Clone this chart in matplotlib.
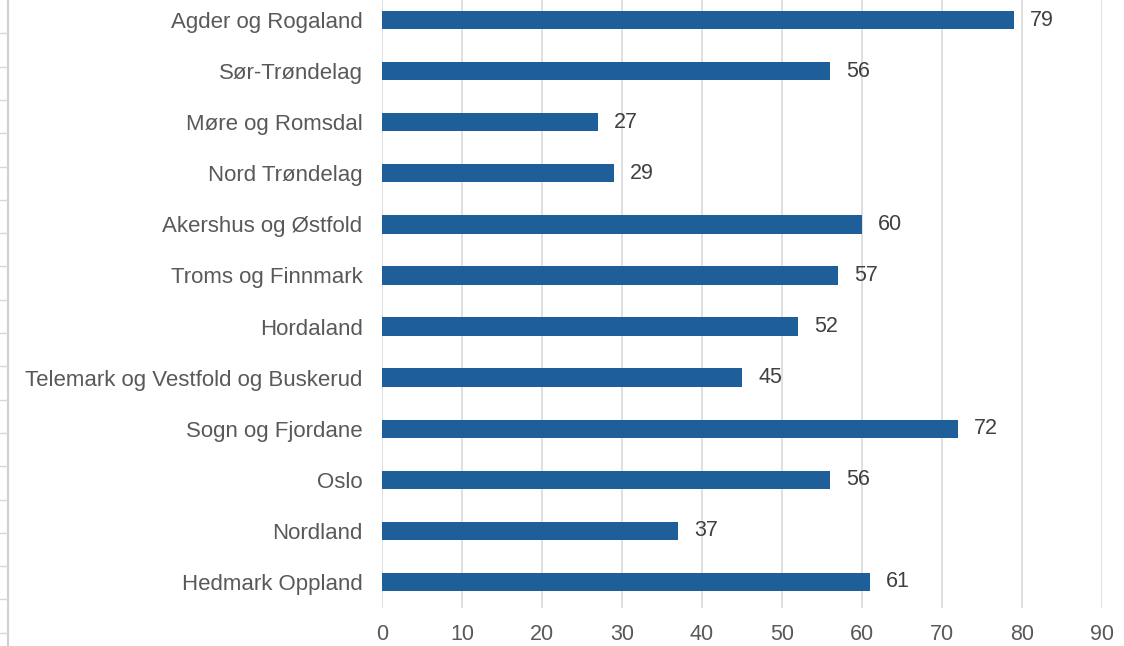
import numpy as np
import matplotlib
matplotlib.use("Agg")
from matplotlib import pyplot as plt
from matplotlib.lines import Line2D

# data, bottom to top
regions = ["Hedmark Oppland", "Nordland", "Oslo", "Sogn og Fjordane",
           "Telemark og Vestfold og Buskerud", "Hordaland", "Troms og Finnmark",
           "Akershus og Østfold", "Nord Trøndelag", "Møre og Romsdal",
           "Sør-Trøndelag", "Agder og Rogaland"]
values = [61, 37, 56, 72, 45, 52, 57, 60, 29, 27, 56, 79]

plt.rcParams["font.family"] = ["Liberation Sans", "DejaVu Sans"]

W, H = 1124, 646
fig = plt.figure(figsize=(W / 100, H / 100), dpi=100)
ax = fig.add_axes([382 / W, 1 - 607.5 / H, 720 / W, 613 / H])

y = np.arange(len(regions))
ax.barh(y, values, height=0.36, color="#1f5f99")
for yi, v in zip(y, values):
    ax.text(v + 2.0, yi, str(v), va="center", ha="left", fontsize=15.5, color="#404040")

ax.set_xlim(0, 90)
ax.set_ylim(-0.5, len(regions) - 0.5)
ax.set_xticks(range(0, 91, 10))
ax.set_yticks(y)
ax.set_yticklabels(regions, fontsize=16)
ax.tick_params(axis="both", length=0, labelcolor="#595959")
ax.tick_params(axis="x", labelsize=15.5, pad=12)
ax.tick_params(axis="y", pad=14)
ax.grid(True, axis="x", color="#d9d9d9", linewidth=1.2)
ax.set_axisbelow(True)
for s in ax.spines.values():
    s.set_visible(False)

# faint spreadsheet edge on the far left
fig.add_artist(Line2D([7.5 / W, 7.5 / W], [0, 1], color="#d0d0d0", lw=1.5))
for k in range(1, 20):
    yy = 1 - k * 33.3 / H
    fig.add_artist(Line2D([0, 7 / W], [yy, yy], color="#d8d8d8", lw=1))

fig.savefig("out.png", dpi=100)
